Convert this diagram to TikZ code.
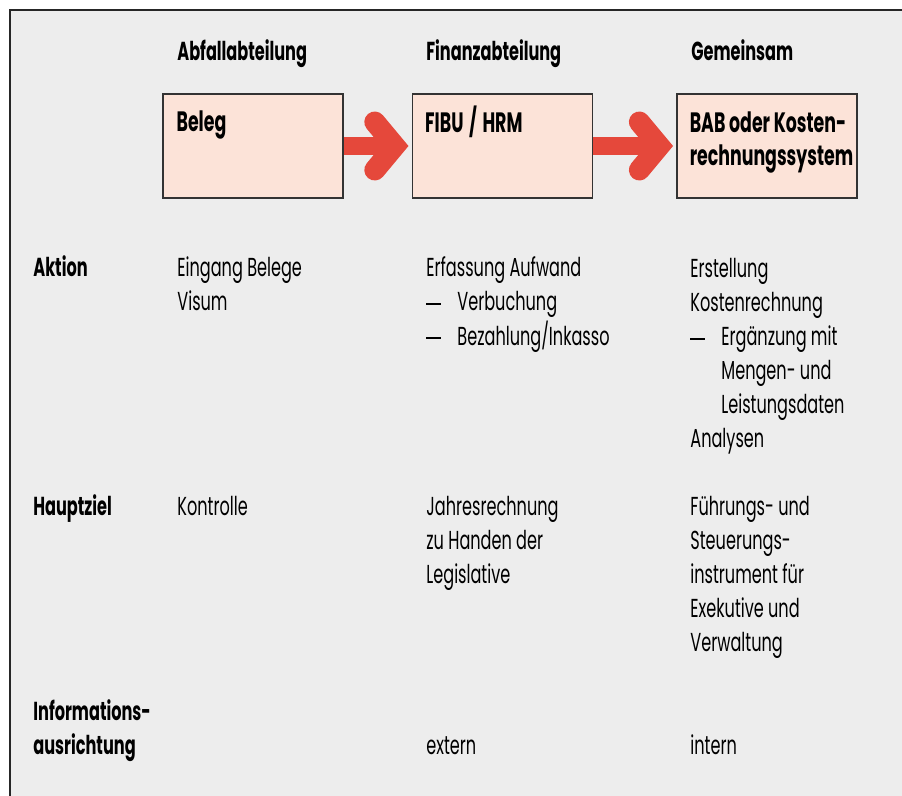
\documentclass[tikz,border=0pt]{standalone}
\usepackage{fontspec}
\setmainfont{Poppins}[FakeStretch=0.62]
\usetikzlibrary{positioning}
\definecolor{hgrau}{RGB}{237,237,237}
\definecolor{pfirsich}{RGB}{252,227,216}
\definecolor{pfeilrot}{RGB}{229,72,59}
\newcommand{\strich}{\makebox[15.5pt][l]{\rule[3.2pt]{7.5pt}{1pt}}}
\newcommand{\einzug}{\hspace*{15.5pt}}
\newcommand{\zeilen}[1]{\begin{tabular}[t]{@{}l@{}}#1\end{tabular}}
\tikzset{
  titel/.style={anchor=base west, inner sep=0pt,
    font=\fontsize{13}{17}\selectfont\bfseries},
  stellentext/.style={anchor=base west, inner sep=0pt,
    font=\fontsize{14}{16.5}\selectfont\bfseries},
  eintrag/.style={anchor=base west, inner sep=0pt,
    font=\fontsize{13}{17}\selectfont},
  stelle/.style={draw=black!80, line width=0.8pt, fill=pfirsich,
    minimum width=90pt, minimum height=52pt, inner sep=0pt},
  schaft/.style={draw=pfeilrot, line width=9pt},
  spitze/.style={draw=pfeilrot, line width=10.5pt, line cap=round, line join=miter},
}
\begin{document}
\begin{tikzpicture}[x=0.5pt,y=-0.5pt]
    \useasboundingbox (0,0) rectangle (902,796);
    % Hintergrund und Rahmen
    \fill[hgrau] (10,10) rectangle (902,796);
    \draw[line width=0.8pt,black!85] (10,796) -- (10,10) -- (902,10);
    % Spaltenkoepfe
    \node[titel] (kopfAbfall) at (177,61) {Abfallabteilung};
    \node[titel] (kopfFinanz) at (426,61) {Finanzabteilung};
    \node[titel] (kopfGemein) at (691,61) {Gemeinsam};
    % Stellen
    \node[stelle] (beleg) at (253,146) {};
    \node[stelle,right=34pt of beleg] (fibu) {};
    \node[stelle,right=41.5pt of fibu] (bab) {};
    % Pfeile
    \draw[schaft] (beleg.east) -- ([shift={(-14,0)}]fibu.west);
    \draw[spitze] ([shift={(-37,-24)}]fibu.west) -- ([shift={(-17,0)}]fibu.west)
        -- ([shift={(-37,24)}]fibu.west);
    \draw[schaft] (fibu.east) -- ([shift={(-14,0)}]bab.west);
    \draw[spitze] ([shift={(-37,-24)}]bab.west) -- ([shift={(-17,0)}]bab.west)
        -- ([shift={(-37,24)}]bab.west);
    \node[stelle] at (beleg) {};
    \node[stelle] at (fibu) {};
    \node[stelle] at (bab) {};
    \node[stellentext] (belegText) at ([shift={(14,38)}]beleg.north west) {Beleg};
    \node[stellentext] (fibuText) at ([shift={(13,39)}]fibu.north west) {FIBU\hspace{0.2em}/\hspace{0.2em}HRM};
    \node[stellentext] (babText) at ([shift={(13,39)}]bab.north west) {\zeilen{BAB oder Kosten-\\rechnungssystem}};
    % Aktion
    \node[titel] (aktion) at (33,277) {Aktion};
    \node[eintrag] (aktionAbfall) at (177,277) {\zeilen{Eingang Belege\\Visum}};
    \node[eintrag] (aktionFinanz) at (426,277) {\zeilen{Erfassung Aufwand\\\strich Verbuchung\\\strich Bezahlung/Inkasso}};
    \node[eintrag] (aktionGemein) at (690,278) {\zeilen{Erstellung\\Kostenrechnung\\\strich Ergänzung mit\\\einzug Mengen- und\\\einzug Leistungsdaten\\Analysen}};
    % Hauptziel
    \node[titel] (hauptziel) at (33,516) {Hauptziel};
    \node[eintrag] (zielAbfall) at (177,516) {Kontrolle};
    \node[eintrag] (zielFinanz) at (426,516) {\zeilen{Jahresrechnung\\zu Handen der\\Legislative}};
    \node[eintrag] (zielGemein) at (690,516) {\zeilen{Führungs- und\\Steuerungs-\\instrument für\\Exekutive und\\Verwaltung}};
    % Informationsausrichtung
    \node[titel] (info) at (33,721) {\zeilen{Informations-\\ausrichtung}};
    \node[eintrag] (infoFinanz) at (426,755) {extern};
    \node[eintrag] (infoGemein) at (690,755) {intern};
\end{tikzpicture}
\end{document}
